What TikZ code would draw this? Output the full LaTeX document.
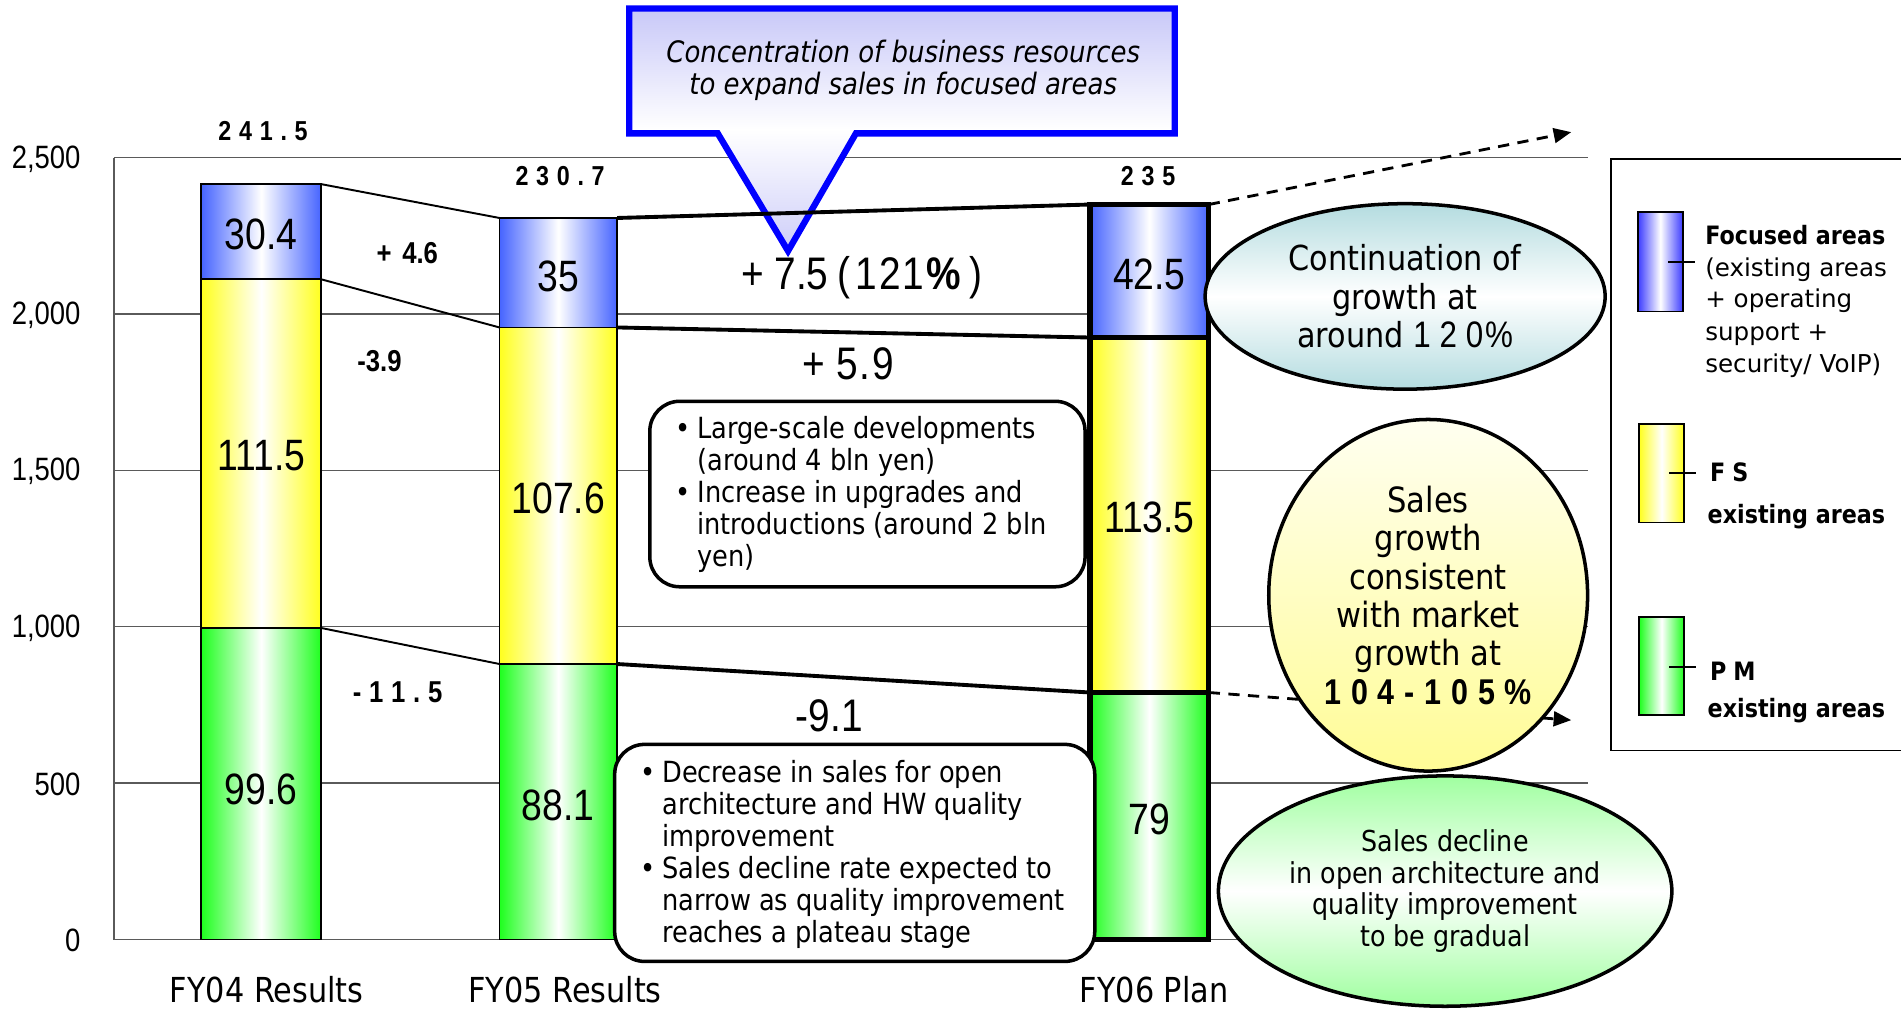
\documentclass[tikz,border=0pt]{standalone}
\usepackage{fontspec}
\setmainfont{DejaVu Sans}
\newfontfamily\nar[FakeStretch=0.85]{Liberation Sans}
\newfontfamily\tah[FakeStretch=0.88]{DejaVu Sans}
\newfontfamily\verd{DejaVu Sans}
\usetikzlibrary{shapes.geometric,arrows.meta}

\definecolor{barblue}{RGB}{70,100,255}
\definecolor{baryel}{RGB}{255,255,30}
\definecolor{bargrn}{RGB}{30,255,30}
\definecolor{legblue}{RGB}{60,60,255}
\definecolor{calfill}{RGB}{200,200,248}
\definecolor{calline}{RGB}{0,0,255}
\definecolor{tealfill}{RGB}{180,220,224}
\definecolor{ellyel}{RGB}{255,252,150}
\definecolor{ellyeltop}{RGB}{255,255,240}
\definecolor{ellgrn}{RGB}{160,255,160}
\definecolor{gridcol}{RGB}{90,90,90}

\newcommand\px{0.012124cm}

\begin{document}
\begin{tikzpicture}[x=0.012124cm,y=-0.012124cm,
  gridline/.style={draw=gridcol,line width=0.4pt},
  axlab/.style={anchor=east,inner sep=0pt,font=\nar\fontsize{9.2}{10}\selectfont},
  segblue/.style={left color=barblue,right color=barblue,middle color=white},
  segyel/.style={left color=baryel,right color=baryel,middle color=white},
  seggrn/.style={left color=bargrn,right color=bargrn,middle color=white},
  thinbar/.style={draw=black,line width=0.5pt},
  thickbar/.style={draw=black,line width=1.5pt},
  val/.style={inner sep=0pt,font=\nar\fontsize{12.5}{13}\selectfont},
  total/.style={inner sep=0pt,font=\nar\bfseries\fontsize{7.8}{9}\selectfont},
  delta/.style={inner sep=0pt,font=\nar\bfseries\fontsize{8.6}{10}\selectfont},
  bigdelta/.style={inner sep=0pt,font=\nar\fontsize{13}{14}\selectfont},
  link/.style={draw=black,line width=0.55pt},
  boldlink/.style={draw=black,line width=1.1pt},
  dasharrow/.style={draw=black,line width=0.8pt,dash pattern=on 3.2pt off 2.4pt,
    -{Triangle[length=5pt,width=4.2pt]}},
  bubble/.style={ellipse,draw=black,line width=1pt,inner sep=0pt,align=center},
  notebox/.style={draw=black,fill=white,line width=1pt,rounded corners=8.5pt,inner sep=0pt},
  notetext/.style={inner sep=0pt,anchor=north west,font=\tah\fontsize{8.3}{9.1}\selectfont},
  xlab/.style={anchor=base,inner sep=0pt,font=\tah\fontsize{9.8}{11}\selectfont},
  legline/.style={anchor=base west,inner sep=0pt,font=\verd\fontsize{7}{8}\selectfont},
  legbold/.style={anchor=base west,inner sep=0pt,font=\tah\bfseries\fontsize{7.2}{8}\selectfont},
  swatch/.style={draw=black,line width=0.5pt}
]
\useasboundingbox (0,0) rectangle (1568,832);

% value grid and axis
\draw[gridline] (94,130) -- (1310,130);
\draw[gridline] (94,259) -- (1310,259);
\draw[gridline] (94,388) -- (1310,388);
\draw[gridline] (94,517) -- (1310,517);
\draw[gridline] (94,646) -- (1310,646);
\draw[gridline] (94,775) -- (1310,775);
\draw[gridline] (94,130) -- (94,775);

\node[axlab] (ax2500) at (67,131) {2,500};
\node[axlab] (ax2000) at (67,260) {2,000};
\node[axlab] (ax1500) at (67,389) {1,500};
\node[axlab] (ax1000) at (67,518) {1,000};
\node[axlab] (ax500)  at (67,647) {500};
\node[axlab] (ax0)    at (67,776) {0};

% FY04 stacked bar
\path[seggrn,thinbar] (166,518.0) rectangle (265,775);
\path[segyel,thinbar] (166,230.4) rectangle (265,518.0);
\path[segblue,thinbar] (166,151.9) rectangle (265,230.4);
% FY05 stacked bar
\path[seggrn,thinbar] (412,547.7) rectangle (509,775);
\path[segyel,thinbar] (412,270.1) rectangle (509,547.7);
\path[segblue,thinbar] (412,179.8) rectangle (509,270.1);
% FY06 stacked bar
\path[seggrn,thickbar] (899,571.2) rectangle (997,775);
\path[segyel,thickbar] (899,278.4) rectangle (997,571.2);
\path[segblue,thickbar] (899,168.7) rectangle (997,278.4);

% segment edges used by the connectors
\coordinate (a1) at (265,151.9);
\coordinate (a2) at (265,230.4);
\coordinate (a3) at (265,518.0);
\coordinate (b1l) at (412,179.8);
\coordinate (b2l) at (412,270.1);
\coordinate (b3l) at (412,547.7);
\coordinate (b1r) at (509,179.8);
\coordinate (b2r) at (509,270.1);
\coordinate (b3r) at (509,547.7);
\coordinate (c1) at (899,168.7);
\coordinate (c2) at (899,278.4);
\coordinate (c3) at (899,571.2);
\coordinate (c1r) at (997,168.7);
\coordinate (c3r) at (997,571.2);
\coordinate (up) at (1296,109);
\coordinate (down) at (1296,594);

% segment values
\node[val] (v41) at (215.5,193) {30.4};
\node[val] (v42) at (215.5,376) {111.5};
\node[val] (v43) at (215.5,651) {99.6};
\node[val] (v51) at (460.5,228) {35};
\node[val] (v52) at (460.5,411) {107.6};
\node[val] (v53) at (460.5,664) {88.1};
\node[val] (v61) at (948,226) {42.5};
\node[val] (v62) at (948,427) {113.5};
\node[val] (v63) at (948,676) {79};

% totals
\node[total] (t4) at (217,108) {2\kern2.2pt 4\kern2.2pt 1\kern2.2pt .\kern2.2pt 5};
\node[total] (t5) at (462,145) {2\kern2.2pt 3\kern2.2pt 0\kern2.2pt .\kern2.2pt 7};
\node[total] (t6) at (947,145) {2\kern2.2pt 3\kern2.2pt 5};

% callout
\path[draw=calline,line width=1.8pt,line join=miter,
      top color=calfill,bottom color=calfill!90!white,middle color=white]
  (519,7) -- (969,7) -- (969,110) -- (706,110) -- (650,207) -- (592,110) -- (519,110) -- cycle;
\node[inner sep=0pt,align=center,font=\tah\itshape\fontsize{8.4}{9}\selectfont] (callout) at (745,58)
  {Concentration of business resources\\to expand sales in focused areas};

% connectors between the bars
\draw[link] (a1) -- (b1l);
\draw[link] (a2) -- (b2l);
\draw[link] (a3) -- (b3l);
\draw[boldlink] (b1r) -- (c1);
\draw[boldlink] (b2r) -- (c2);
\draw[boldlink] (b3r) -- (c3);

% dashed pointers towards the legend
\draw[dasharrow] (c1r) -- (up);
\draw[dasharrow] (c3r) -- (down);

% changes between years
\node[delta] (d1) at (336,209) {+\kern3pt 4.6};
\node[delta] (d2) at (313,298) {-3.9};
\node[delta] (d3) at (328,571) {-\kern2.2pt 1\kern2.2pt 1\kern2.2pt .\kern2.2pt 5};
\node[bigdelta] (d4) at (711,229) {+\kern3pt 7.5\kern2.5pt(\kern1.5pt 1\kern0.6pt 2\kern0.6pt 1\kern0.6pt{\bfseries\%}\kern2.5pt)};
\node[bigdelta] (d5) at (700,300) {+\kern3pt 5\kern0.6pt .\kern0.6pt 9};
\node[bigdelta] (d6) at (684,590) {-9.1};

% comment boxes
\node[notebox,minimum width=359*\px,minimum height=153*\px] (box1) at (715.5,407.5) {};
\node[notetext] (box1t) at (557,342.5) {\begin{tabular}{@{}l@{\hspace{1.8pt}}l@{}}
\textbullet & Large-scale developments\\
 & (around 4 bln yen)\\
\textbullet & Increase in upgrades and\\
 & introductions (around 2 bln\\
 & yen)
\end{tabular}};
\node[notebox,minimum width=396*\px,minimum height=179*\px] (box2) at (705,703.5) {};
\node[notetext] (box2t) at (528,626.5) {\begin{tabular}{@{}l@{\hspace{1.8pt}}l@{}}
\textbullet & Decrease in sales for open\\
 & architecture and HW quality\\
 & improvement\\
\textbullet & Sales decline rate expected to\\
 & narrow as quality improvement\\
 & reaches a plateau stage
\end{tabular}};

% outlook bubbles
\node[bubble,minimum width=330*\px,minimum height=153*\px,
      top color=tealfill,bottom color=tealfill,middle color=white,
      font=\tah\fontsize{9.8}{10.9}\selectfont] (grow) at (1159,244.5)
  {Continuation of\\growth at\\around {\nar\fontsize{10.5}{10.9}\selectfont 1\kern2.5pt 2\kern2.5pt 0\kern0.5pt\%}};
\node[bubble,minimum width=263*\px,minimum height=290*\px,
      top color=ellyeltop,bottom color=ellyel,
      font=\tah\fontsize{9.9}{10.9}\selectfont] (market) at (1178,491)
  {Sales\\growth\\consistent\\with market\\growth at\\{\nar\bfseries\fontsize{10.2}{10.9}\selectfont 1\kern2.8pt 0\kern2.8pt 4\kern2.8pt -\kern2.8pt 1\kern2.8pt 0\kern2.8pt 5\kern2.8pt\%}};
\node[bubble,minimum width=374*\px,minimum height=190*\px,
      top color=ellgrn,bottom color=ellgrn,middle color=white,
      font=\tah\fontsize{8.2}{9}\selectfont] (decline) at (1192,735)
  {Sales decline\\in open architecture and\\quality improvement\\to be gradual};

% category labels
\node[xlab] (x4) at (220,827) {FY04 Results};
\node[xlab] (x5) at (466,827) {FY05 Results};
\node[xlab] (x6) at (952,827) {FY06 Plan};

% legend
\draw[black,line width=0.5pt] (1600,131) -- (1329,131) -- (1329,619) -- (1600,619);
\path[swatch,left color=legblue,right color=legblue,middle color=white] (1351,175) rectangle (1388,257);
\path[swatch,left color=baryel,right color=baryel,middle color=white] (1352,350) rectangle (1389,431);
\path[swatch,left color=bargrn,right color=bargrn,middle color=white] (1352,509) rectangle (1389,590);
\coordinate (k1a) at (1376,216); \coordinate (k1b) at (1398,216);
\coordinate (k2a) at (1377,390); \coordinate (k2b) at (1399,390);
\coordinate (k3a) at (1377,550); \coordinate (k3b) at (1399,550);
\draw[black,line width=0.5pt] (k1a) -- (k1b);
\draw[black,line width=0.5pt] (k2a) -- (k2b);
\draw[black,line width=0.5pt] (k3a) -- (k3b);
\node[legbold] (l1) at (1406,202) {Focused areas};
\node[legline] (l2) at (1406,228) {(existing areas};
\node[legline] (l3) at (1406,254) {+ operating};
\node[legline] (l4) at (1406,281) {support +};
\node[legline] (l5) at (1406,307) {security/ VoIP)};
\node[legbold] (l6) at (1410,397) {F\kern2pt S};
\node[legbold] (l7) at (1408,432) {existing areas};
\node[legbold] (l8) at (1410,561) {P\kern2pt M};
\node[legbold] (l9) at (1408,592) {existing areas};
\end{tikzpicture}
\end{document}
